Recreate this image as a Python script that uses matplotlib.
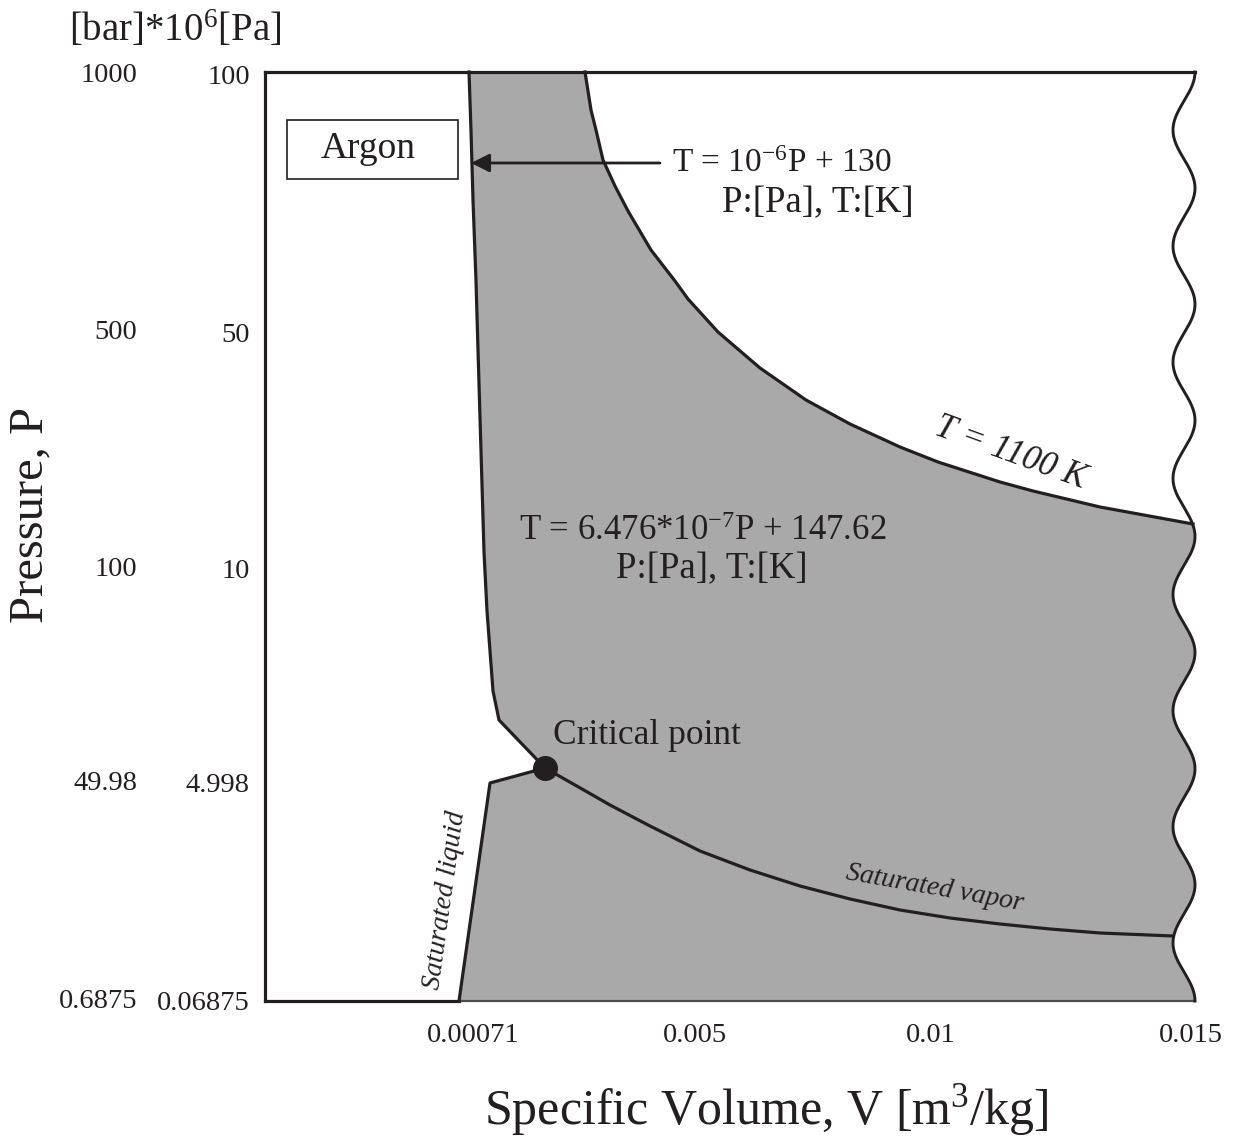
import numpy as np
import matplotlib
matplotlib.use("Agg")
import matplotlib.pyplot as plt
from matplotlib.patches import Rectangle, Polygon
import matplotlib.transforms as mtransforms

plt.rcParams['font.family'] = ['Liberation Serif', 'DejaVu Serif']
plt.rcParams['mathtext.fontset'] = 'custom'
plt.rcParams['mathtext.rm'] = 'Liberation Serif'
plt.rcParams['mathtext.it'] = 'Liberation Serif:italic'

INK = '#231f20'
GRAY = '#a9a9a9'

# ---- axis ticks (schematic positions) ----
x_tick_pos = [208, 430, 666, 926]
x_tick_labels = ['0.00071', '0.005', '0.01', '0.015']
y_tick_pos = [926, 669, 432, 218, 0]
y_labels_pa = ['100', '50', '10', '4.998', '0.06875']
y_labels_bar = ['1000', '500', '100', '49.98', '0.6875']

# ---- curves (schematic coordinates) ----
comp_liq_x = [204, 206, 208, 211, 213, 216, 219, 222, 225, 228, 234, 280]
comp_liq_y = [929, 870, 801, 720, 651, 550, 449, 390, 350, 310, 281, 233]
crit_x, crit_y = 280, 233
sat_liq_x = [280, 225, 194]
sat_liq_y = [233, 218, 0]
sat_vap_x = [280, 310, 345, 385, 435, 485, 535, 585, 635, 685, 735, 785, 835, 908]
sat_vap_y = [233, 216, 196, 175, 150, 131, 115, 102, 91, 83, 77, 72, 68, 65]
iso_x = [320, 323, 326, 331, 338, 350, 363, 386, 410, 423, 453, 495, 541, 585, 635, 673, 735, 768, 835, 928]
iso_y = [929, 910, 891, 871, 841, 815, 790, 751, 720, 702, 669, 633, 601, 577, 554, 539, 519, 510, 494, 477]

fig = plt.figure(figsize=(12.37, 11.43), dpi=100)
W, H = 1237, 1143
ax = fig.add_axes([265 / W, 142 / H, 935 / W, 929 / H])
ax.set_xlim(0, 935)
ax.set_ylim(0, 929)
for s in ax.spines.values():
    s.set_visible(False)

# break (wavy) right edge
n_per = 8
wy = np.linspace(0, 929, 800)
wx = 919 + 11 * np.cos(2 * np.pi * n_per * (929 - wy) / 929)

# gray region polygon
mask_low = wy <= iso_y[-1]
poly_x = list(comp_liq_x) + list(sat_liq_x[1:]) + list(wx[mask_low]) + list(iso_x[::-1]) + [comp_liq_x[0]]
poly_y = list(comp_liq_y) + list(sat_liq_y[1:]) + list(wy[mask_low]) + list(iso_y[::-1]) + [comp_liq_y[0]]
ax.add_patch(Polygon(np.column_stack([poly_x, poly_y]), closed=True, facecolor=GRAY, edgecolor='none', zorder=1))

LW = 2.3
# frame
ax.plot([0, 0], [0, 929], color=INK, lw=LW, solid_capstyle='projecting', clip_on=False, zorder=3)
ax.plot([0, 930], [929, 929], color=INK, lw=LW, solid_capstyle='projecting', clip_on=False, zorder=3)
ax.plot([0, sat_liq_x[-1]], [0, 0], color=INK, lw=LW, solid_capstyle='projecting', clip_on=False, zorder=3)
ax.plot([sat_liq_x[-1], 930], [0, 0], color='#4a4a4a', lw=1.6, clip_on=False, zorder=3)
ax.plot(wx, wy, color=INK, lw=2.1, clip_on=False, zorder=3)

# curves
ax.plot(comp_liq_x, comp_liq_y, color=INK, lw=LW, zorder=4, clip_on=False)
ax.plot(sat_liq_x, sat_liq_y, color=INK, lw=LW, zorder=4, clip_on=False)
ax.plot(sat_vap_x, sat_vap_y, color=INK, lw=LW, zorder=4, clip_on=False)
ax.plot(iso_x, iso_y, color=INK, lw=LW, zorder=4, clip_on=False)
ax.plot([crit_x], [crit_y], 'o', color=INK, ms=17, zorder=5)

# ticks
ax.set_xticks(x_tick_pos)
ax.set_xticklabels(x_tick_labels, fontsize=20.5, color=INK)
ax.set_yticks(y_tick_pos)
ax.set_yticklabels(y_labels_pa, fontsize=20.5, color=INK)
ax.tick_params(axis='both', length=0)
ax.tick_params(axis='x', pad=16)
ax.tick_params(axis='y', pad=11)
trans = mtransforms.blended_transform_factory(ax.transAxes, ax.transData)
for yp, lab in zip(y_tick_pos, y_labels_bar):
    ax.text(-128 / 935, yp, lab, transform=trans, ha='right', va='center', fontsize=20.5, color=INK)

# argon box
ax.add_patch(Rectangle((22, 822), 171, 59, facecolor='white', edgecolor=INK, lw=1.2, zorder=5))
ax.text(103, 852, 'Argon', ha='center', va='center', fontsize=27, color=INK, zorder=6)

# arrow + equation
ax.annotate('', xy=(206, 838), xytext=(395, 838),
            arrowprops=dict(arrowstyle='-|>', color=INK, lw=2.0, mutation_scale=28, shrinkA=0, shrinkB=0),
            zorder=6)
ax.text(407, 837, r'T = 10$^{-6}$P + 130', ha='left', va='center', fontsize=24, color=INK)
ax.text(457, 798, 'P:[Pa], T:[K]', ha='left', va='center', fontsize=26.5, color=INK)

ax.text(438, 470, r'T = 6.476*10$^{-7}$P + 147.62', ha='center', va='center', fontsize=25, color=INK)
ax.text(447, 432, 'P:[Pa], T:[K]', ha='center', va='center', fontsize=26.5, color=INK)

ax.text(288, 266, 'Critical point', ha='left', va='center', fontsize=25.5, color=INK)
ax.text(745, 548, 'T = 1100 K', ha='center', va='center', fontsize=25, style='italic',
        rotation=-20, color=INK)
ax.text(670, 113, 'Saturated vapor', ha='center', va='center', fontsize=20, style='italic',
        rotation=-10, color=INK)
ax.text(180, 101, 'Saturated liquid', ha='center', va='center', fontsize=20, style='italic',
        rotation=82, color=INK)

# axis titles
fig.text(175 / W, 1 - 30 / H, r'[bar]*10$^{6}$[Pa]', ha='center', va='center', fontsize=28, color=INK)
fig.text(766 / W, 1 - 1110 / H, r'Specific Volume, V [m$^{3}$/kg]', ha='center', va='center',
         fontsize=36, color=INK)
fig.text(30 / W, 1 - 515 / H, 'Pressure, P', ha='center', va='center', fontsize=35,
         rotation=90, color=INK)

fig.savefig('out.png', dpi=100, facecolor='white')
